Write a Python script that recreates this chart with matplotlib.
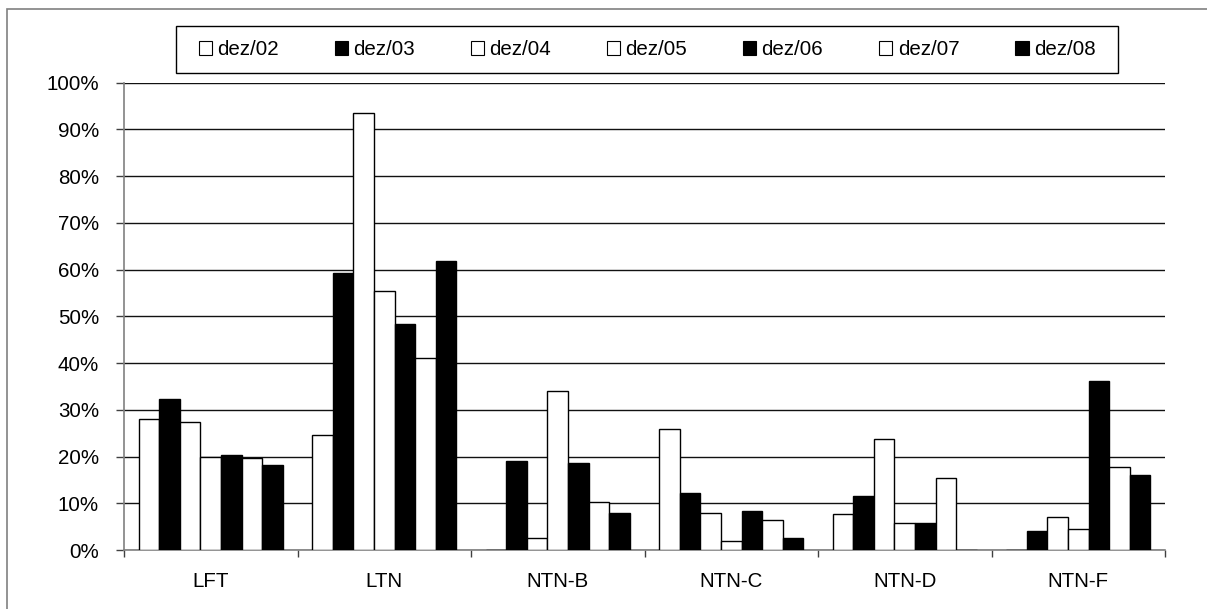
import numpy as np
import matplotlib.pyplot as plt
from matplotlib.patches import Patch, Rectangle

plt.rcParams['font.family'] = ['Liberation Sans', 'DejaVu Sans']

# Share per title, December of each year (%)
categories = ['LFT', 'LTN', 'NTN-B', 'NTN-C', 'NTN-D', 'NTN-F']
series = ['dez/02', 'dez/03', 'dez/04', 'dez/05', 'dez/06', 'dez/07', 'dez/08']
dez02 = [28.0, 24.6, 0.0, 26.0, 7.8, 0.0]
dez03 = [32.3, 59.2, 19.1, 12.3, 11.6, 4.1]
dez04 = [27.3, 93.5, 2.6, 8.0, 23.8, 7.1]
dez05 = [19.9, 55.5, 34.0, 2.0, 5.7, 4.4]
dez06 = [20.4, 48.4, 18.6, 8.3, 5.8, 36.1]
dez07 = [19.6, 41.0, 10.3, 6.4, 15.4, 17.8]
dez08 = [18.1, 61.8, 8.0, 2.6, 0.0, 16.1]
values = [dez02, dez03, dez04, dez05, dez06, dez07, dez08]
fills = ['white', 'black', 'white', 'white', 'black', 'white', 'black']

FS = 14.8
W, H = 1207, 609
fig = plt.figure(figsize=(W / 100, H / 100), dpi=100)
ax = fig.add_axes([124 / W, 1 - 550 / H, (1165 - 124) / W, (550 - 82.7) / H])

# outer frame of the chart
fig.patches.append(Rectangle((7 / W, -0.1), 1.2, 1 - 9 / H + 0.1, transform=fig.transFigure,
                             fill=False, edgecolor='#808080', linewidth=1.2))

bar_w = 0.1183
centers = np.arange(len(categories)) + 0.5
for j, (name, vals) in enumerate(zip(series, values)):
    ax.bar(centers + (j - 3) * bar_w, vals, width=bar_w, color=fills[j],
           edgecolor='black', linewidth=1.0, zorder=3, label=name)

ax.set_xlim(0, len(categories))
ax.set_ylim(0, 100)
ax.set_yticks(np.arange(0, 101, 10))
ax.set_yticklabels([f'{v}%' for v in range(0, 101, 10)])
ax.yaxis.grid(True, color='#111111', linewidth=1.0, zorder=0)
ax.set_axisbelow(True)

ax.set_xticks(np.arange(len(categories) + 1))
ax.set_xticklabels([])
ax.set_xticks(centers, minor=True)
ax.set_xticklabels(categories, minor=True)
ax.tick_params(axis='x', which='major', length=5, width=1, color='#404040', direction='out')
ax.tick_params(axis='x', which='minor', length=0, pad=16, labelsize=FS)
ax.tick_params(axis='y', length=6, width=1, color='#404040', pad=12, labelsize=FS)

for side in ['top', 'right']:
    ax.spines[side].set_visible(False)
for side in ['left', 'bottom']:
    ax.spines[side].set_color('#808080')
    ax.spines[side].set_linewidth(1.2)

# legend box drawn separately so its padding can be set freely
fig.patches.append(Rectangle((176 / W, 1 - 73 / H), (1118 - 176) / W, 47 / H,
                             transform=fig.transFigure, fill=False,
                             edgecolor='black', linewidth=1.0))
handles = [Patch(facecolor=f, edgecolor='black', linewidth=0.8) for f in fills]
fig.legend(handles, series, loc='center', ncol=7,
           bbox_to_anchor=((176 + 1118) / 2 / W, 1 - 49.5 / H),
           fontsize=FS, frameon=False, borderpad=0,
           handlelength=0.65, handleheight=0.65, handletextpad=0.25,
           columnspacing=2.72, borderaxespad=0)

fig.savefig('out.png', dpi=100)
